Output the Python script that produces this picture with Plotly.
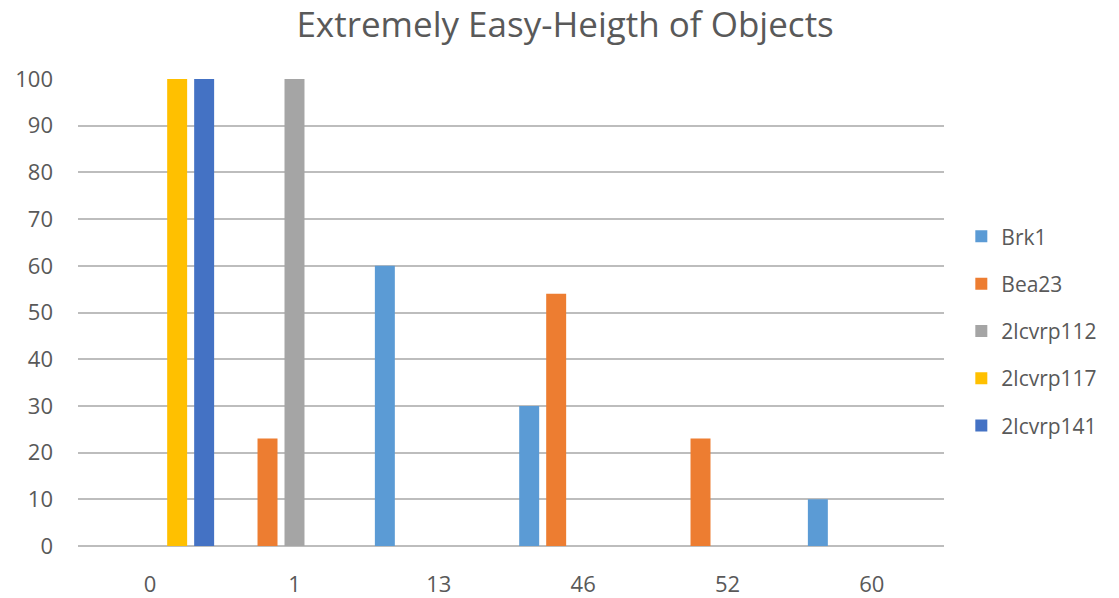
import plotly.graph_objects as go

# Category labels along the x axis
categories = ["0", "1", "13", "46", "52", "60"]

# Percent values per series
brk1 = [0, 0, 60, 30, 0, 10]
bea23 = [0, 23, 0, 54, 23, 0]
lcvrp112 = [0, 100, 0, 0, 0, 0]
lcvrp117 = [100, 0, 0, 0, 0, 0]
lcvrp141 = [100, 0, 0, 0, 0, 0]

series_names = ["Brk1", "Bea23", "2lcvrp112", "2lcvrp117", "2lcvrp141"]
series_values = [brk1, bea23, lcvrp112, lcvrp117, lcvrp141]
colors = ["#5B9BD5", "#ED7D31", "#A5A5A5", "#FFC000", "#4472C4"]

text_color = "#595959"
grid_color = "#BDBDBD"
font_family = "Open Sans, Lato, sans-serif"

fig = go.Figure()
for name, vals, col in zip(series_names, series_values, colors):
    fig.add_trace(go.Bar(
        x=categories, y=vals, name=name,
        marker=dict(color=col, line=dict(width=0)),
        legendgroup=name,
    ))

fig.update_layout(
    width=1119, height=598,
    margin=dict(l=78, r=175, t=79, b=52, autoexpand=False),
    paper_bgcolor="white", plot_bgcolor="white",
    barmode="group", bargap=0.065, bargroupgap=0.26,
    font=dict(family=font_family, color=text_color, size=21),
    title=dict(
        text="Extremely Easy-Heigth of Objects",
        x=0.505, xanchor="center", y=0.958, yanchor="middle",
        font=dict(size=35, color=text_color, family=font_family),
    ),
    legend=dict(
        x=1.02, xanchor="left", y=0.46, yanchor="middle",
        font=dict(size=21, color=text_color),
        tracegroupgap=17, itemwidth=30,
        bgcolor="rgba(0,0,0,0)",
    ),
    xaxis=dict(
        type="category", showgrid=False, showline=False,
        ticks="", ticklabelstandoff=23, automargin=False,
        tickfont=dict(size=22, color=text_color),
    ),
    yaxis=dict(
        range=[0, 100], dtick=10, tick0=0,
        showgrid=True, gridcolor=grid_color, gridwidth=2,
        zeroline=True, zerolinecolor=grid_color, zerolinewidth=2,
        ticks="", ticklabelstandoff=24, automargin=False,
        tickfont=dict(size=22, color=text_color),
    ),
)

fig.write_html("out.html")
